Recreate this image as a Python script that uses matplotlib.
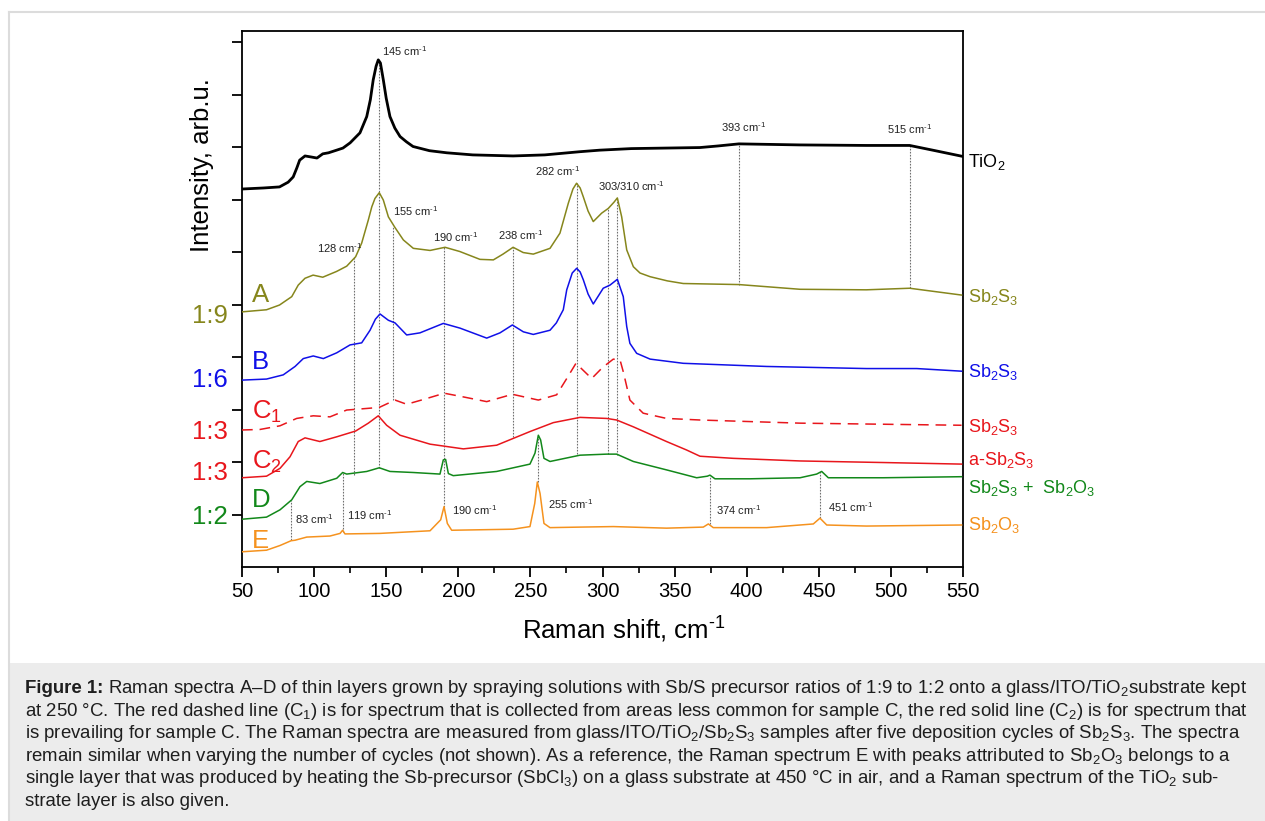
import matplotlib
matplotlib.use("Agg")
import matplotlib.pyplot as plt
from matplotlib.patches import Rectangle
from matplotlib.lines import Line2D

plt.rcParams['font.family'] = ['Liberation Sans', 'DejaVu Sans']
plt.rcParams['mathtext.fontset'] = 'custom'
plt.rcParams['mathtext.rm'] = 'Liberation Sans'
plt.rcParams['mathtext.it'] = 'Liberation Sans:italic'
plt.rcParams['mathtext.bf'] = 'Liberation Sans:bold'

# ---------------- data ----------------
x_tio2 = [50, 65, 76, 82, 85.5, 88, 90, 93.7, 98, 102, 106, 110, 115.6, 120, 125, 131.8, 136.5, 139, 141, 143,
          144.5, 146, 148, 150, 152.6, 156, 159.6, 164, 168.6, 180, 192, 210, 238, 260, 284, 298, 320, 367.6, 380,
          394.6, 437, 483, 513, 529, 550]
y_tio2 = [7.20, 7.22, 7.24, 7.33, 7.43, 7.60, 7.75, 7.83, 7.81, 7.79, 7.87, 7.89, 7.94, 7.98, 8.08, 8.27, 8.58, 8.90,
          9.28, 9.54, 9.66, 9.60, 9.28, 8.93, 8.58, 8.36, 8.20, 8.10, 8.01, 7.93, 7.89, 7.85, 7.83, 7.85, 7.91, 7.94,
          7.97, 7.99, 8.02, 8.06, 8.04, 8.03, 8.03, 7.94, 7.82]

x_a = [50, 67, 76, 84.5, 89, 93.7, 99.3, 106, 115.6, 122.6, 128.8, 133, 137.6, 140, 142.2, 145.2, 148, 151.5, 156,
       161.9, 168.8, 180.4, 190.8, 201, 215, 224.3, 231, 238, 245, 252, 263.6, 270.5, 276.3, 279.5, 282, 284.5,
       286.7, 290, 293.6, 299.4, 304, 308, 310.3, 313.3, 316.8, 321.4, 326, 333, 345, 356, 394.6, 437, 483, 513, 549]
y_a = [4.86, 4.90, 4.99, 5.15, 5.37, 5.50, 5.56, 5.52, 5.63, 5.73, 5.91, 6.17, 6.61, 6.86, 7.02, 7.13, 6.99, 6.67,
       6.47, 6.23, 6.07, 6.03, 6.09, 6.01, 5.86, 5.85, 5.96, 6.09, 5.99, 5.96, 6.07, 6.36, 6.93, 7.20, 7.31, 7.22,
       7.05, 6.78, 6.58, 6.74, 6.83, 6.95, 7.03, 6.67, 6.04, 5.72, 5.60, 5.53, 5.45, 5.40, 5.38, 5.29, 5.28, 5.31, 5.18]

x_b = [50, 67, 78.6, 86.8, 92.5, 99.4, 106.4, 115.7, 124.9, 133, 138.8, 142.5, 145.7, 151.5, 156.1, 164.2, 173.4,
       189.6, 201.2, 219.7, 228.9, 237.5, 245.1, 252, 263.6, 268, 272.8, 275.2, 279, 282.1, 284.5, 286.7, 290,
       293.6, 300.5, 305.2, 310.3, 314.4, 316.8, 319, 323.7, 333, 356, 413.8, 483, 517.9, 549]
y_b = [3.56, 3.58, 3.66, 3.82, 3.97, 4.02, 3.97, 4.08, 4.23, 4.27, 4.51, 4.72, 4.82, 4.70, 4.65, 4.42, 4.46, 4.64,
       4.55, 4.36, 4.46, 4.61, 4.48, 4.43, 4.51, 4.65, 4.90, 5.28, 5.60, 5.69, 5.62, 5.47, 5.20, 5.01, 5.31, 5.37,
       5.48, 5.15, 4.58, 4.26, 4.07, 3.96, 3.88, 3.82, 3.78, 3.78, 3.73]

x_c1 = [50, 62.5, 76.4, 87.9, 99.4, 111, 122.6, 136.5, 145.2, 156.1, 164.2, 175.7, 190.3, 203.5, 219.7, 237.5, 255.5,
        268.2, 275.2, 281.6, 292.5, 300, 307.5, 312.2, 314.4, 319, 328.2, 344.4, 367.6, 437, 549]
y_c1 = [2.61, 2.62, 2.69, 2.83, 2.88, 2.86, 2.99, 3.02, 3.04, 3.18, 3.10, 3.19, 3.31, 3.24, 3.15, 3.29, 3.18, 3.28,
        3.59, 3.88, 3.59, 3.80, 3.96, 3.94, 3.72, 3.18, 2.93, 2.83, 2.80, 2.74, 2.70]

x_c2 = [50, 67, 76.4, 83.3, 89, 93.7, 104, 115.7, 128.8, 137.6, 144.5, 150.3, 159.6, 180.4, 203.5, 226.6, 249.7,
        265.9, 284.4, 302.9, 309.8, 321.4, 344.4, 358.2, 367.6, 390.6, 437, 494.7, 549]
y_c2 = [1.70, 1.73, 1.88, 2.10, 2.39, 2.46, 2.39, 2.48, 2.59, 2.74, 2.88, 2.70, 2.51, 2.34, 2.25, 2.32, 2.58, 2.75,
        2.85, 2.83, 2.80, 2.67, 2.39, 2.23, 2.11, 2.07, 2.02, 1.99, 1.96]

x_d = [50, 67, 76.4, 84.5, 90.2, 94.9, 104, 115.7, 119.8, 122.6, 136.5, 145.2, 152.6, 168.8, 187.3, 189.6, 191.2,
       193.1, 196.5, 226.6, 249.7, 253.2, 255.5, 257.1, 259.4, 263.6, 284.4, 302.9, 309.8, 321.4, 344.4, 365.3,
       372.7, 374.5, 378, 402.3, 437, 448.5, 452, 456.6, 494.7, 549]
y_d = [0.91, 0.95, 1.09, 1.28, 1.53, 1.63, 1.59, 1.69, 1.80, 1.77, 1.82, 1.89, 1.82, 1.80, 1.77, 2.04, 2.05, 1.78,
       1.74, 1.82, 1.96, 2.17, 2.51, 2.42, 2.07, 2.01, 2.13, 2.15, 2.15, 2.01, 1.85, 1.70, 1.73, 1.75, 1.68, 1.68,
       1.70, 1.77, 1.82, 1.70, 1.70, 1.72]

x_e = [50, 67, 76.4, 84, 86.8, 94.9, 111, 118, 119.8, 121.4, 145.7, 180.4, 187.8, 190.1, 192.4, 195.4, 238, 249.7,
       253, 254.8, 256.7, 259.4, 263.6, 284.4, 307.5, 344.4, 369.9, 373.4, 376.8, 413.8, 446.2, 450.8, 455.5, 483, 549]
y_e = [0.29, 0.32, 0.41, 0.50, 0.51, 0.57, 0.59, 0.64, 0.70, 0.63, 0.64, 0.69, 0.90, 1.15, 0.83, 0.70, 0.72, 0.77,
       1.21, 1.62, 1.40, 0.83, 0.75, 0.76, 0.77, 0.74, 0.76, 0.82, 0.75, 0.75, 0.82, 0.93, 0.80, 0.78, 0.80]

# dotted peak markers: position, upper and lower end
vl_x = [145, 128, 155, 190, 238, 282, 303.8, 310.3, 394.6, 513, 84, 120, 255.3, 374.5, 451]
vl_top = [9.66, 5.90, 6.48, 6.10, 6.10, 7.31, 6.84, 7.03, 8.06, 8.03, 1.28, 1.80, 2.51, 1.74, 1.82]
vl_bot = [1.89, 1.75, 3.18, 1.14, 2.48, 2.15, 2.15, 2.13, 5.38, 5.31, 0.51, 0.67, 1.62, 0.82, 0.93]

# peak annotations
pk_text = ['145', '128', '155', '190', '238', '282', '303/310', '393', '515',
           '83', '119', '190', '255', '374', '451']
pk_x = [147.1, 102, 154.7, 182.5, 227.5, 253.2, 296.9, 382.2, 497.3, 86.8, 122.8, 195.6, 262.2, 378.7, 456.4]
pk_y = [9.74, 5.99, 6.68, 6.20, 6.22, 7.44, 7.17, 8.28, 8.24, 0.81, 0.89, 1.00, 1.11, 1.00, 1.04]

# right-hand phase labels
ph_text = ['TiO$_2$', 'Sb$_2$S$_3$', 'Sb$_2$S$_3$', 'Sb$_2$S$_3$', 'a-Sb$_2$S$_3$',
           'Sb$_2$S$_3$ +  Sb$_2$O$_3$', 'Sb$_2$O$_3$']
ph_y = [7.62, 5.05, 3.62, 2.57, 1.94, 1.41, 0.70]

# left sample letters and Sb/S ratios
smp_text = ['A', 'B', 'C$_1$', 'C$_2$', 'D', 'E']
smp_y = [5.05, 3.78, 2.83, 1.88, 1.14, 0.36]
ratio_text = ['1:9', '1:6', '1:3', '1:3', '1:2']
ratio_y = [4.65, 3.42, 2.43, 1.66, 0.82]

x_ticks = [50, 100, 150, 200, 250, 300, 350, 400, 450, 500, 550]
x_minor = [75, 125, 175, 225, 275, 325, 375, 425, 475, 525]
y_ticks = [1, 2, 3, 4, 5, 6, 7, 8, 9, 10]

caption_head = "Figure 1:"
caption = [
    r"Raman spectra A–D of thin layers grown by spraying solutions with Sb/S precursor ratios of 1:9 to 1:2 onto a glass/ITO/TiO$_2$substrate kept",
    r"at 250 °C. The red dashed line (C$_1$) is for spectrum that is collected from areas less common for sample C, the red solid line (C$_2$) is for spectrum that",
    r"is prevailing for sample C. The Raman spectra are measured from glass/ITO/TiO$_2$/Sb$_2$S$_3$ samples after five deposition cycles of Sb$_2$S$_3$. The spectra",
    r"remain similar when varying the number of cycles (not shown). As a reference, the Raman spectrum E with peaks attributed to Sb$_2$O$_3$ belongs to a",
    r"single layer that was produced by heating the Sb-precursor (SbCl$_3$) on a glass substrate at 450 °C in air, and a Raman spectrum of the TiO$_2$ sub-",
    r"strate layer is also given.",
]

# ---------------- style ----------------
OLIVE = '#86861c'
BLUE = '#1010e8'
RED = '#e8161c'
GREEN = '#12881a'
ORANGE = '#f5921e'
SUP = r' cm$^{\text{-1}}$'

W, H = 1265, 821
fig = plt.figure(figsize=(W / 100, H / 100), dpi=100)
fig.patch.set_facecolor('white')

# frame and caption box
fig.add_artist(Line2D([9 / W, 1], [1 - 12 / H, 1 - 12 / H], color='#dcdcdc', lw=1.5))
fig.add_artist(Line2D([9 / W, 9 / W], [0, 1 - 12 / H], color='#dcdcdc', lw=1.5))
fig.add_artist(Rectangle((10 / W, 0), 1 - 10 / W, (H - 663) / H, transform=fig.transFigure,
                         facecolor='#ececec', edgecolor='none'))

ax = fig.add_axes([242 / W, 1 - 567 / H, (963 - 242) / W, (567 - 31) / H])
ax.set_xlim(50, 550)
ax.set_ylim(0, 10.21)

ax.vlines(vl_x, vl_bot, vl_top, colors='#707070', linestyles=(0, (1.5, 1.2)), lw=0.8, zorder=1)

ax.plot(x_tio2, y_tio2, color='black', lw=2.0, zorder=3)
ax.plot(x_a, y_a, color=OLIVE, lw=1.1, zorder=3)
ax.plot(x_b, y_b, color=BLUE, lw=1.1, zorder=3)
ax.plot(x_c1, y_c1, color=RED, lw=1.1, ls=(0, (7, 4.5)), zorder=3)
ax.plot(x_c2, y_c2, color=RED, lw=1.1, zorder=3)
ax.plot(x_d, y_d, color=GREEN, lw=1.1, zorder=3)
ax.plot(x_e, y_e, color=ORANGE, lw=1.1, zorder=3)

for t, x, y in zip(pk_text, pk_x, pk_y):
    ax.text(x, y, t + SUP, fontsize=8, color='#222222', ha='left', va='baseline', zorder=4)

ph_colors = ['black', OLIVE, BLUE, RED, RED, GREEN, ORANGE]
for t, y, c in zip(ph_text, ph_y, ph_colors):
    ax.text(553.5, y, t, fontsize=13, color=c, ha='left', va='baseline', clip_on=False)

smp_colors = [OLIVE, BLUE, RED, RED, GREEN, ORANGE]
for t, y, c in zip(smp_text, smp_y, smp_colors):
    ax.text(56.8, y, t, fontsize=18.5, color=c, ha='left', va='baseline', clip_on=False)

ratio_colors = [OLIVE, BLUE, RED, RED, GREEN]
for t, y, c in zip(ratio_text, ratio_y, ratio_colors):
    ax.text(15.5, y, t, fontsize=18.5, color=c, ha='left', va='baseline', clip_on=False)

for s in ax.spines.values():
    s.set_linewidth(1.3)
ax.set_xticks(x_ticks)
ax.set_xticks(x_minor, minor=True)
ax.set_yticks(y_ticks)
ax.set_yticklabels([])
ax.tick_params(axis='x', which='major', direction='out', length=7, width=1.3, labelsize=14.5, pad=4)
ax.tick_params(axis='x', which='minor', direction='out', length=4, width=1.2)
ax.tick_params(axis='y', which='major', direction='out', length=7, width=1.3)

fig.text(202 / W, 1 - 165 / H, 'Intensity, arb.u.', rotation=90, fontsize=18.5, ha='center', va='center')
fig.text(624 / W, 1 - 630 / H, r'Raman shift, cm$^{\text{-1}}$', fontsize=18.5, ha='center', va='center')

CAP_FS = 13.4
renderer = fig.canvas.get_renderer()
head = fig.text(25 / W, 1 - 693 / H, caption_head, fontsize=CAP_FS, fontweight='bold', color='#1e1e1e',
                ha='left', va='baseline')
head_w = head.get_window_extent(renderer).width
for i, line in enumerate(caption):
    x0 = (25 + head_w + 4.5) if i == 0 else 25
    fig.text(x0 / W, 1 - (693 + i * 22.5) / H, line, fontsize=CAP_FS, color='#1e1e1e',
             ha='left', va='baseline')

fig.savefig('out.png', dpi=100, facecolor='white')
